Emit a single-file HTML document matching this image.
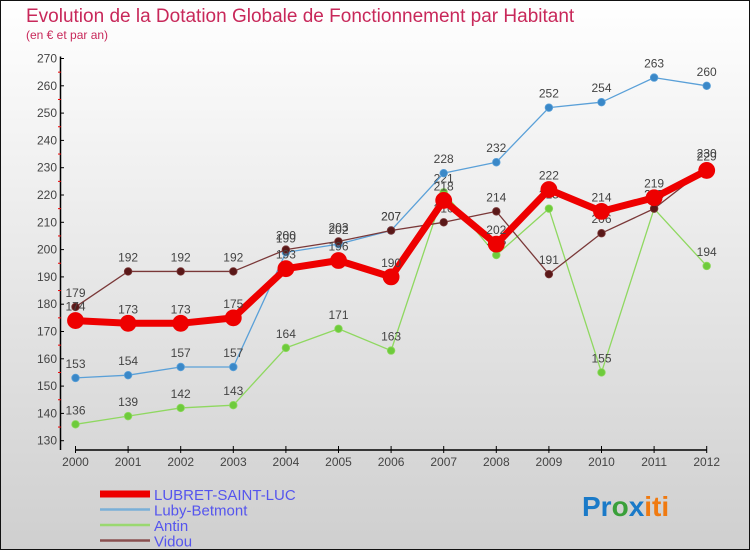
<!DOCTYPE html>
<html><head><meta charset="utf-8"><style>
body{margin:0}
#c{width:750px;height:550px;position:relative;overflow:hidden;font-family:"Liberation Sans",sans-serif}
svg text{font-family:"Liberation Sans",sans-serif}
</style></head><body>
<div id="c">
<svg id="s" width="750" height="550" xmlns="http://www.w3.org/2000/svg">
<defs><linearGradient id="bg" x1="0" y1="0" x2="0" y2="1"><stop offset="0" stop-color="#ffffff"/><stop offset="1" stop-color="#cfcfcf"/></linearGradient></defs>
<rect x="0.5" y="0.5" width="749" height="549" fill="url(#bg)" stroke="#111"/>
<text x="26" y="22" font-size="19" fill="#c8285a">Evolution de la Dotation Globale de Fonctionnement par Habitant</text>
<text x="26" y="39" font-size="12" fill="#c8285a">(en € et par an)</text>
<g id="axes"></g><g id="series"></g><g id="legend"></g>
<text x="582" y="516" font-size="28" font-weight="bold"><tspan fill="#1a7ac8">Pr</tspan><tspan fill="#3aa03a">o</tspan><tspan fill="#1a7ac8">x</tspan><tspan fill="#f07a10">iti</tspan></text>
</svg></div>
<script>
const years=[2000,2001,2002,2003,2004,2005,2006,2007,2008,2009,2010,2011,2012];
const lubret=[174,173,173,175,193,196,190,218,202,222,214,219,229];
const luby=[153,154,157,157,199,202,207,228,232,252,254,263,260];
const antin=[136,139,142,143,164,171,163,221,198,215,155,215,194];
const vidou=[179,192,192,192,200,203,207,210,214,191,206,215,230];
const yTicks=[130,140,150,160,170,180,190,200,210,220,230,240,250,260,270];
const NS="http://www.w3.org/2000/svg";
const X=i=>75.5+i*52.6;
const Y=v=>440.7-(v-130)*2.73;
function mk(t,a,p){const e=document.createElementNS(NS,t);for(const k in a)e.setAttribute(k,a[k]);p.appendChild(e);return e;}
const ax=document.getElementById('axes');
let e=mk('line',{x1:60.5,y1:Y(270)-2,x2:60.5,y2:450,stroke:'#000','stroke-width':1.5},ax);


e=mk('line',{x1:X(0),y1:450,x2:X(12),y2:450,stroke:'#000','stroke-width':1.5},ax);


yTicks.forEach(v=>{
 mk('line',{x1:60,y1:Y(v),x2:64,y2:Y(v),stroke:'#000'},ax);
 if(v<270)mk('line',{x1:58,y1:Y(v+5),x2:61,y2:Y(v+5),stroke:'#e00'},ax);
 const t=mk('text',{x:57,y:Y(v)+4,'font-size':12,'text-anchor':'end',fill:'#444'},ax);t.textContent=v;
 
 
});
years.forEach((y,i)=>{
 mk('line',{x1:X(i),y1:446,x2:X(i),y2:453,stroke:'#000'},ax);
 const t=mk('text',{x:X(i),y:466,'font-size':12,'text-anchor':'middle',fill:'#444'},ax);t.textContent=y;
 
 
});
const S=document.getElementById('series');
function draw(d,name,col,w,r,dot){
 const g=mk('g',{},S);
 
 
 const p=mk('polyline',{points:d.map((v,i)=>X(i)+','+Y(v)).join(' '),fill:'none',stroke:col,'stroke-width':w,'stroke-linejoin':'round'},g);
 
 
 d.forEach((v,i)=>{
  const c=mk('circle',{cx:X(i),cy:Y(v),r:r,fill:dot,stroke:col,'stroke-width':0.8},g);
  
  
  const t=mk('text',{x:X(i),y:Y(v)-10,'font-size':12,'text-anchor':'middle',fill:'#444'},g);t.textContent=v;
  
  
 });
}
draw(antin,'antin','#8fd860',1.3,3.8,'#6ecb3c');
draw(luby,'luby-betmont','#5aa0d8',1.3,3.8,'#3a88c8');
draw(vidou,'vidou','#7a3838',1.3,3.8,'#5a1818');
draw(lubret,'lubret-saint-luc','#ee0000',7,8,'#ee0000');
const L=document.getElementById('legend');
[['LUBRET-SAINT-LUC','#ee0000',7],['Luby-Betmont','#7ab0d8',2.5],['Antin','#9ad870',2.5],['Vidou','#8a5050',2.5]].forEach((d,i)=>{
 const y=494+i*15.5;
 const l=mk('line',{x1:100,y1:y,x2:150,y2:y,stroke:d[1],'stroke-width':d[2]},L);
 
 
 const t=mk('text',{x:154,y:y+6,'font-size':15,fill:'#5555ee'},L);t.textContent=d[0];
 
 
});
</script>
</body></html>
